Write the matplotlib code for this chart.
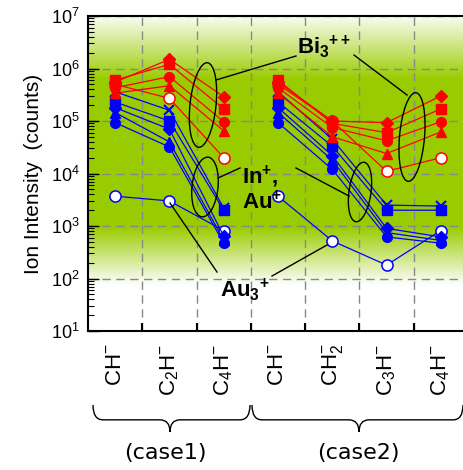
import numpy as np
import matplotlib
matplotlib.use("Agg")
import matplotlib.pyplot as plt
from matplotlib.patches import Ellipse, PathPatch
from matplotlib.path import Path

plt.rcParams['font.family'] = ['Liberation Sans', 'DejaVu Sans']
plt.rcParams['mathtext.fontset'] = 'custom'
plt.rcParams['mathtext.rm'] = 'Liberation Sans'
plt.rcParams['mathtext.it'] = 'Liberation Sans:italic'
plt.rcParams['mathtext.bf'] = 'Liberation Sans:bold'

# ---- data ----
x_labels = ['CH$^{-}$', 'C$_2$H$^{-}$', 'C$_4$H$^{-}$',
            'CH$^{-}$', 'CH$_2^{-}$', 'C$_3$H$^{-}$', 'C$_4$H$^{-}$']
x_case1 = [0, 1, 2]
x_case2 = [3, 4, 5, 6]

# Bi3++ (red)
bi_diamond_c1 = [5.5e5, 1.5e6, 2.9e5]
bi_square_c1 = [6.0e5, 1.2e6, 1.7e5]
bi_circle_c1 = [4.3e5, 7.0e5, 9.7e4]
bi_triangle_c1 = [3.4e5, 4.7e5, 6.5e4]
bi_open_c1 = [5.0e5, 2.7e5, 2.0e4]

bi_diamond_c2 = [5.5e5, 1.0e5, 9.3e4, 3.0e5]
bi_square_c2 = [6.0e5, 9.0e4, 6.0e4, 1.7e5]
bi_circle_c2 = [4.3e5, 7.5e4, 4.2e4, 9.7e4]
bi_triangle_c2 = [3.4e5, 5.0e4, 2.4e4, 6.2e4]
bi_open_c2 = [5.0e5, 1.0e5, 1.1e4, 2.0e4]

# In+, Au+ (blue, filled)
inau_x_c1 = [3.6e5, 1.6e5, 2.2e3]
inau_square_c1 = [2.3e5, 1.0e5, 2.0e3]
inau_diamond_c1 = [1.8e5, 7.0e4, 6.4e2]
inau_triangle_c1 = [1.45e5, 4.0e4, 5.4e2]
inau_circle_c1 = [9.3e4, 3.2e4, 4.7e2]

inau_x_c2 = [3.6e5, 4.5e4, 2.5e3, 2.4e3]
inau_square_c2 = [2.3e5, 3.3e4, 2.0e3, 2.0e3]
inau_diamond_c2 = [1.8e5, 2.2e4, 9.0e2, 6.2e2]
inau_triangle_c2 = [1.45e5, 1.8e4, 7.5e2, 5.3e2]
inau_circle_c2 = [9.3e4, 1.2e4, 6.2e2, 4.7e2]

# Au3+ (blue, open)
au3_c1 = [3.7e3, 3.0e3, 8.2e2]
au3_c2 = [3.7e3, 5.2e2, 1.8e2, 8.2e2]

RED = '#ff0000'
BLUE = '#0000ff'
GREEN = np.array([0x99, 0xcc, 0x00]) / 255.0

fig = plt.figure(figsize=(4.64, 4.70), dpi=100)
pos = [88 / 464, 1 - 331 / 470, 380 / 464, 315 / 470]

# gradient background
bg = fig.add_axes(pos, zorder=0)
t = np.linspace(0, 1, 500)
g = np.interp(t, [0, 0.146, 0.33, 0.80, 1.0], [0, 0, 1, 1, 0.05])
img = (np.ones((500, 1, 3)) * (1 - g)[:, None, None]
       + GREEN[None, None, :] * g[:, None, None])
bg.imshow(img, aspect='auto', extent=[0, 1, 0, 1], origin='lower')
bg.axis('off')

ax = fig.add_axes(pos, zorder=1)
ax.patch.set_alpha(0)
ax.set_yscale('log')
ax.set_ylim(10, 1e7)
ax.set_xlim(-0.5, 6.5)


def series(xs, ys, color, marker, ms, mfc=None, mew=1.0, z=3):
    ax.plot(xs, ys, color=color, lw=0.9, marker=marker, ms=ms,
            mfc=mfc if mfc else color, mec=color, mew=mew, zorder=z)


# blue open (Au3+)
series(x_case1, au3_c1, BLUE, 'o', 8, mfc='white', mew=1.1)
series(x_case2, au3_c2, BLUE, 'o', 8, mfc='white', mew=1.1)
# blue filled (In+, Au+)
for xs, d in [(x_case1, [inau_x_c1, inau_square_c1, inau_diamond_c1,
                         inau_triangle_c1, inau_circle_c1]),
              (x_case2, [inau_x_c2, inau_square_c2, inau_diamond_c2,
                         inau_triangle_c2, inau_circle_c2])]:
    series(xs, d[0], BLUE, 'x', 7, mew=1.5)
    series(xs, d[1], BLUE, 's', 6.5)
    series(xs, d[2], BLUE, 'D', 6)
    series(xs, d[3], BLUE, '^', 7.5)
    series(xs, d[4], BLUE, 'o', 7)
# red (Bi3++)
series(x_case1, bi_open_c1, RED, 'o', 8, mfc='white', mew=1.1, z=4)
series(x_case2, bi_open_c2, RED, 'o', 8, mfc='white', mew=1.1, z=4)
for xs, d in [(x_case1, [bi_diamond_c1, bi_square_c1, bi_circle_c1, bi_triangle_c1]),
              (x_case2, [bi_diamond_c2, bi_square_c2, bi_circle_c2, bi_triangle_c2])]:
    series(xs, d[0], RED, 'D', 6, z=4)
    series(xs, d[1], RED, 's', 6.5, z=4)
    series(xs, d[2], RED, 'o', 7, z=4)
    series(xs, d[3], RED, '^', 7.5, z=4)

# axes styling
ax.set_xticks(range(7))
ax.set_xticklabels(x_labels, rotation=90, fontsize=16)
ax.set_xticks(np.arange(0.5, 6, 1), minor=True)
ax.tick_params(axis='x', which='major', length=0, pad=9)
ax.tick_params(axis='x', which='minor', direction='in', length=6, width=1.5)
ax.tick_params(axis='y', which='major', direction='in', length=8, width=1,
               labelsize=13, pad=6)
ax.tick_params(axis='y', which='minor', direction='in', length=4, width=0.8)
ax.set_ylabel('Ion Intensity  (counts)', fontsize=15, labelpad=6)
ax.grid(axis='y', which='major', ls=(0, (6, 4)), color='#888888', lw=1)
ax.grid(axis='x', which='minor', ls=(0, (6, 4)), color='#888888', lw=1)
ax.set_axisbelow(True)
ax.spines['right'].set_visible(False)
for s in ['left', 'bottom', 'top']:
    ax.spines[s].set_linewidth(1.5)

# overlay in pixel coordinates for annotations and braces
ov = fig.add_axes([0, 0, 1, 1], zorder=5)
ov.set_xlim(0, 464)
ov.set_ylim(470, 0)
ov.axis('off')
ov.patch.set_alpha(0)

for (cx, cy, w, h, ang) in [(203, 105, 26, 85, 6), (412, 137, 25, 89, 5),
                            (205, 187, 26, 60, 6), (360, 192, 22, 60, 8)]:
    ov.add_patch(Ellipse((cx, cy), w, h, angle=ang, fill=False,
                         ec='black', lw=1.0))
for (x0, y0, x1, y1) in [(216, 80, 296, 56), (354, 55, 407, 95),
                         (218, 178, 240, 168), (296, 168, 349, 196),
                         (170, 203, 217, 272), (327, 245, 272, 276)]:
    ov.plot([x0, x1], [y0, y1], color='black', lw=1.0)

ov.text(297, 47, r'Bi$_{\mathbf{3}}$$^{\mathbf{++}}$', fontsize=16,
        fontweight='bold', ha='left', va='center')
ov.text(242, 177, r'In$^{\mathbf{+}}$,', fontsize=16,
        fontweight='bold', ha='left', va='center')
ov.text(242, 202, r'Au$^{\mathbf{+}}$', fontsize=16,
        fontweight='bold', ha='left', va='center')
ov.text(220, 290, r'Au$_{\mathbf{3}}$$^{\mathbf{+}}$', fontsize=16,
        fontweight='bold', ha='left', va='center')


def brace(x0, x1, xm, y0, h, r=10):
    yh = y0 + h * 0.55
    verts = [(x0, y0), (x0, yh), (x0 + r, yh),
             (xm - r, yh), (xm, yh), (xm, y0 + h),
             (xm, yh), (xm + r, yh),
             (x1 - r, yh), (x1, yh), (x1, y0)]
    codes = [Path.MOVETO, Path.CURVE3, Path.CURVE3,
             Path.LINETO, Path.CURVE3, Path.CURVE3,
             Path.CURVE3, Path.CURVE3,
             Path.LINETO, Path.CURVE3, Path.CURVE3]
    ov.add_patch(PathPatch(Path(verts, codes), fill=False, ec='black', lw=1.0))


brace(93, 250, 170, 405, 27)
brace(252, 463, 359, 405, 27)
ov.text(165, 453, '(case1)', fontsize=16, family='DejaVu Sans',
        ha='center', va='center')
ov.text(358, 453, '(case2)', fontsize=16, family='DejaVu Sans',
        ha='center', va='center')

fig.savefig('out.png', dpi=100)
